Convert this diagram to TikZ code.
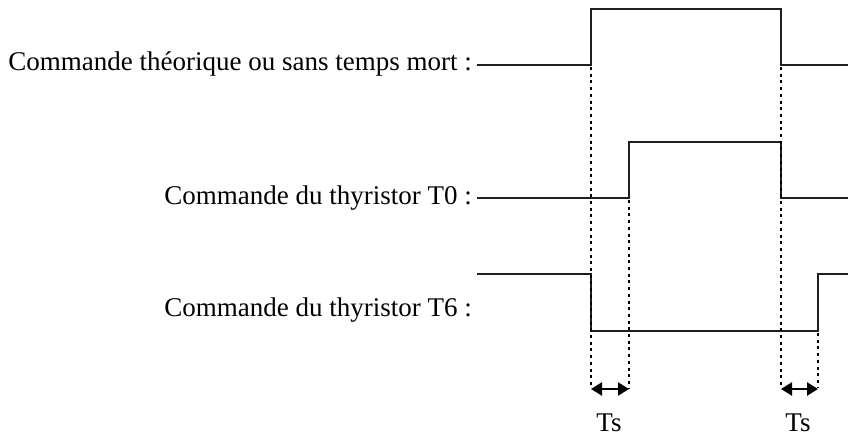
\documentclass[tikz,border=0pt]{standalone}
\usepackage{fontspec}
\setmainfont{Liberation Serif}
\usetikzlibrary{arrows.meta}
\begin{document}
\begin{tikzpicture}[x=1pt,y=-1pt,
  signal/.style={line width=2.6pt,line join=miter,color=black!88},
  guide/.style={line width=2.4pt,dash pattern=on 3pt off 3.7pt},
  lab/.style={anchor=east,inner sep=0pt,font=\fontsize{27}{31}\selectfont},
  tslab/.style={inner sep=0pt,font=\fontsize{27}{31}\selectfont},
  span/.style={line width=2.4pt,{Triangle[length=11pt,width=13pt]}-{Triangle[length=11pt,width=13pt]}}]
\useasboundingbox (0,0) rectangle (848,437);
% labels
\node[lab] (l1) at (472,64) {Commande théorique ou sans temps mort :};
\node[lab] (l2) at (472,198) {Commande du thyristor T0 :};
\node[lab] (l3) at (472,310) {Commande du thyristor T6 :};
% waveforms
\draw[signal] (477,65) -- (591,65) -- (591,9) -- (781,9) -- (781,65) -- (848,65);
\draw[signal] (477,198) -- (629,198) -- (629,142) -- (781,142) -- (781,198) -- (848,198);
\draw[signal] (477,274) -- (591,274) -- (591,331) -- (818,331) -- (818,274) -- (848,274);
% guides
\coordinate (a1) at (591,67); \coordinate (a2) at (591,388);
\coordinate (b1) at (629,200); \coordinate (b2) at (629,388);
\coordinate (c1) at (781,67); \coordinate (c2) at (781,388);
\coordinate (d1) at (818,333); \coordinate (d2) at (818,388);
\draw[guide] (a1) -- (a2);
\draw[guide] (b1) -- (b2);
\draw[guide] (c1) -- (c2);
\draw[guide] (d1) -- (d2);
\coordinate (s1) at (591,389); \coordinate (s2) at (629,389);
\coordinate (s3) at (781,389); \coordinate (s4) at (818,389);
\draw[span] (s1) -- (s2);
\draw[span] (s3) -- (s4);
\node[tslab] (ts1) at (609,423) {Ts};
\node[tslab] (ts2) at (798,423) {Ts};
\end{tikzpicture}
\end{document}
